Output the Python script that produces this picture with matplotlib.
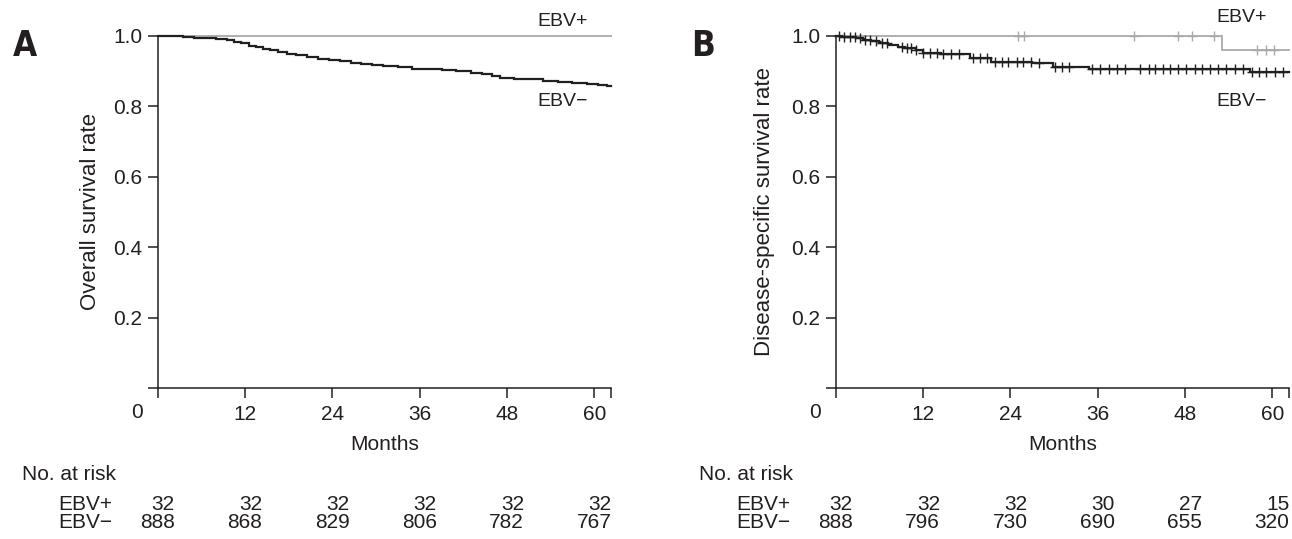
import numpy as np
import matplotlib
matplotlib.use("Agg")
import matplotlib.pyplot as plt
import matplotlib.transforms as mtransforms

plt.rcParams['font.family'] = ['Liberation Sans', 'DejaVu Sans']

# ---- data ----
x_ticks = [0, 12, 24, 36, 48, 60]
x_end = 62.3

# Panel A: overall survival
os_pos_times = [0]
os_pos_surv = [1.0]
os_neg_times = [0, 2.0, 3.5, 5.0, 6.5, 8.0, 9.5, 10.5, 11.5, 12.5, 13.5, 14.5,
                15.5, 16.5, 17.8, 19.0, 20.5, 22.0, 23.5, 25.0, 26.5, 28.0,
                29.5, 31.0, 33.0, 35.0, 37.0, 39.0, 41.0, 43.0, 44.5, 46.0,
                47.0, 49.0, 51.0, 53.0, 55.0, 57.0, 59.0, 60.5, 61.8]
os_neg_surv = [1.000, 0.999, 0.997, 0.995, 0.993, 0.991, 0.988, 0.984, 0.979,
               0.972, 0.968, 0.964, 0.960, 0.955, 0.948, 0.945, 0.941, 0.936,
               0.932, 0.928, 0.924, 0.921, 0.917, 0.914, 0.911, 0.907, 0.905,
               0.903, 0.900, 0.895, 0.891, 0.886, 0.881, 0.879, 0.877, 0.873,
               0.869, 0.867, 0.865, 0.862, 0.858]
os_risk_pos = [32, 32, 32, 32, 32, 32]
os_risk_neg = [888, 868, 829, 806, 782, 767]

# Panel B: disease-specific survival
dss_pos_times = [0, 53.1]
dss_pos_surv = [1.0, 0.96]
dss_pos_cens = [25.1, 25.9, 41.0, 47.1, 48.9, 52.0, 57.9, 59.1, 60.2]
dss_neg_times = [0, 0.8, 1.8, 2.8, 3.8, 4.8, 6.0, 7.2, 8.5, 9.5, 11.0, 12.0,
                 14.5, 18.5, 21.3, 27.0, 29.8, 34.8, 40.5, 56.9]
dss_neg_surv = [1.000, 0.998, 0.996, 0.993, 0.988, 0.985, 0.979, 0.975, 0.970,
                0.966, 0.960, 0.951, 0.948, 0.937, 0.927, 0.923, 0.913, 0.907,
                0.905, 0.898]
dss_neg_cens = [0.5, 1.1, 1.9, 2.6, 3.3, 4.0, 4.7, 5.6, 6.3, 7.0, 9.1, 9.8,
                10.4, 11.1, 12.0, 13.0, 13.9, 14.8, 15.9, 16.9, 18.9, 19.8,
                20.8, 21.9, 22.8, 23.7, 24.9, 25.8, 26.9, 27.9, 30.1, 31.1,
                32.0, 35.2, 36.3, 37.5, 38.6, 39.8, 41.8, 43.0, 43.9, 45.0,
                45.9, 47.1, 48.2, 49.4, 50.3, 51.4, 52.6, 53.7, 54.9, 56.0,
                57.2, 58.2, 59.2, 60.4, 61.5]
dss_risk_pos = [32, 32, 32, 30, 27, 15]
dss_risk_neg = [888, 796, 730, 690, 655, 320]

GRAY = '#a7a9ac'
BLACK = '#231f20'
W, H = 1292, 539
FS = 15

fig = plt.figure(figsize=(W / 100, H / 100), dpi=100)


def km(ax, times, surv, color, lw, cens=None):
    t = np.append(times, x_end)
    s = np.append(surv, surv[-1])
    ax.step(t, s, where='post', color=color, lw=lw, clip_on=False,
            solid_joinstyle='miter')
    if cens is not None:
        idx = np.searchsorted(times, cens, side='right') - 1
        ax.plot(cens, np.asarray(surv)[idx], ls='none', marker='+',
                ms=7, mew=1.0, color=color, clip_on=False)


def panel(left_px, letter, ylabel, ylab_x, risk_pos, risk_neg, table_left):
    ax = fig.add_axes([left_px / W, 1 - 388.3 / H,
                       (x_end * 7.277) / W, (388.3 - 36) / H])
    ax.set_xlim(0, x_end)
    ax.set_ylim(0, 1.0)
    for s in ['top', 'right']:
        ax.spines[s].set_visible(False)
    for s in ['left', 'bottom']:
        ax.spines[s].set_color(BLACK)
        ax.spines[s].set_linewidth(1.1)
    ax.set_xticks(x_ticks + [x_end])
    ax.set_xticklabels([''] + [str(v) for v in x_ticks[1:]] + [''])
    ax.set_yticks([0, 0.2, 0.4, 0.6, 0.8, 1.0])
    ax.set_yticklabels(['', '0.2', '0.4', '0.6', '0.8', '1.0'])
    ax.tick_params(direction='out', length=7, width=1.1, color=BLACK,
                   labelsize=FS, labelcolor=BLACK)
    ax.tick_params(axis='x', pad=5)
    ax.tick_params(axis='y', pad=4)

    bx = mtransforms.blended_transform_factory(ax.transData, fig.transFigure)
    ax.text(-2.85, 1 - 412 / H, '0', transform=bx, ha='center', va='center',
            fontsize=FS, color=BLACK)
    ax.text(x_end / 2, 1 - 445 / H, 'Months', transform=bx, ha='center',
            va='center', fontsize=FS, color=BLACK)
    fig.text(ylab_x / W, 1 - 212 / H, ylabel, rotation=90, ha='center',
             va='center', fontsize=16, color=BLACK)
    fig.text((left_px - 133) / W, 1 - 46 / H, letter, ha='center',
             va='center', fontsize=25, fontweight='bold', color=BLACK,
             family='DejaVu Sans', fontstretch='condensed')

    # number at risk table
    fig.text(table_left / W, 1 - 474 / H, 'No. at risk', ha='left',
             va='center', fontsize=FS, color=BLACK)
    lab_right = left_px - 45
    fig.text(lab_right / W, 1 - 504 / H, 'EBV+', ha='right', va='center',
             fontsize=FS, color=BLACK)
    fig.text(lab_right / W, 1 - 522.7 / H, 'EBV\u2212', ha='right',
             va='center', fontsize=FS, color=BLACK)
    for t, p, n in zip(x_ticks, risk_pos, risk_neg):
        ax.text(t + 2.35, 1 - 504 / H, str(p), transform=bx, ha='right',
                va='center', fontsize=FS, color=BLACK)
        ax.text(t + 2.35, 1 - 522.7 / H, str(n), transform=bx, ha='right',
                va='center', fontsize=FS, color=BLACK)
    return ax


# Panel A
axA = panel(157.7, 'A', 'Overall survival rate', 90, os_risk_pos,
            os_risk_neg, 21.7)
km(axA, os_pos_times, os_pos_surv, GRAY, 1.3)
km(axA, os_neg_times, os_neg_surv, BLACK, 1.6)
fig.text(563 / W, 1 - 22 / H, 'EBV+', ha='center', va='center',
         fontsize=14, color=BLACK)
fig.text(563 / W, 1 - 101 / H, 'EBV\u2212', ha='center', va='center',
         fontsize=14, color=BLACK)

# Panel B
axB = panel(835.7, 'B', 'Disease-specific survival rate', 764,
            dss_risk_pos, dss_risk_neg, 698.6)
km(axB, dss_pos_times, dss_pos_surv, GRAY, 1.3, dss_pos_cens)
km(axB, dss_neg_times, dss_neg_surv, BLACK, 1.6, dss_neg_cens)
fig.text(1242 / W, 1 - 18 / H, 'EBV+', ha='center', va='center',
         fontsize=14, color=BLACK)
fig.text(1242 / W, 1 - 101 / H, 'EBV\u2212', ha='center', va='center',
         fontsize=14, color=BLACK)

fig.savefig('out.png', dpi=100)
